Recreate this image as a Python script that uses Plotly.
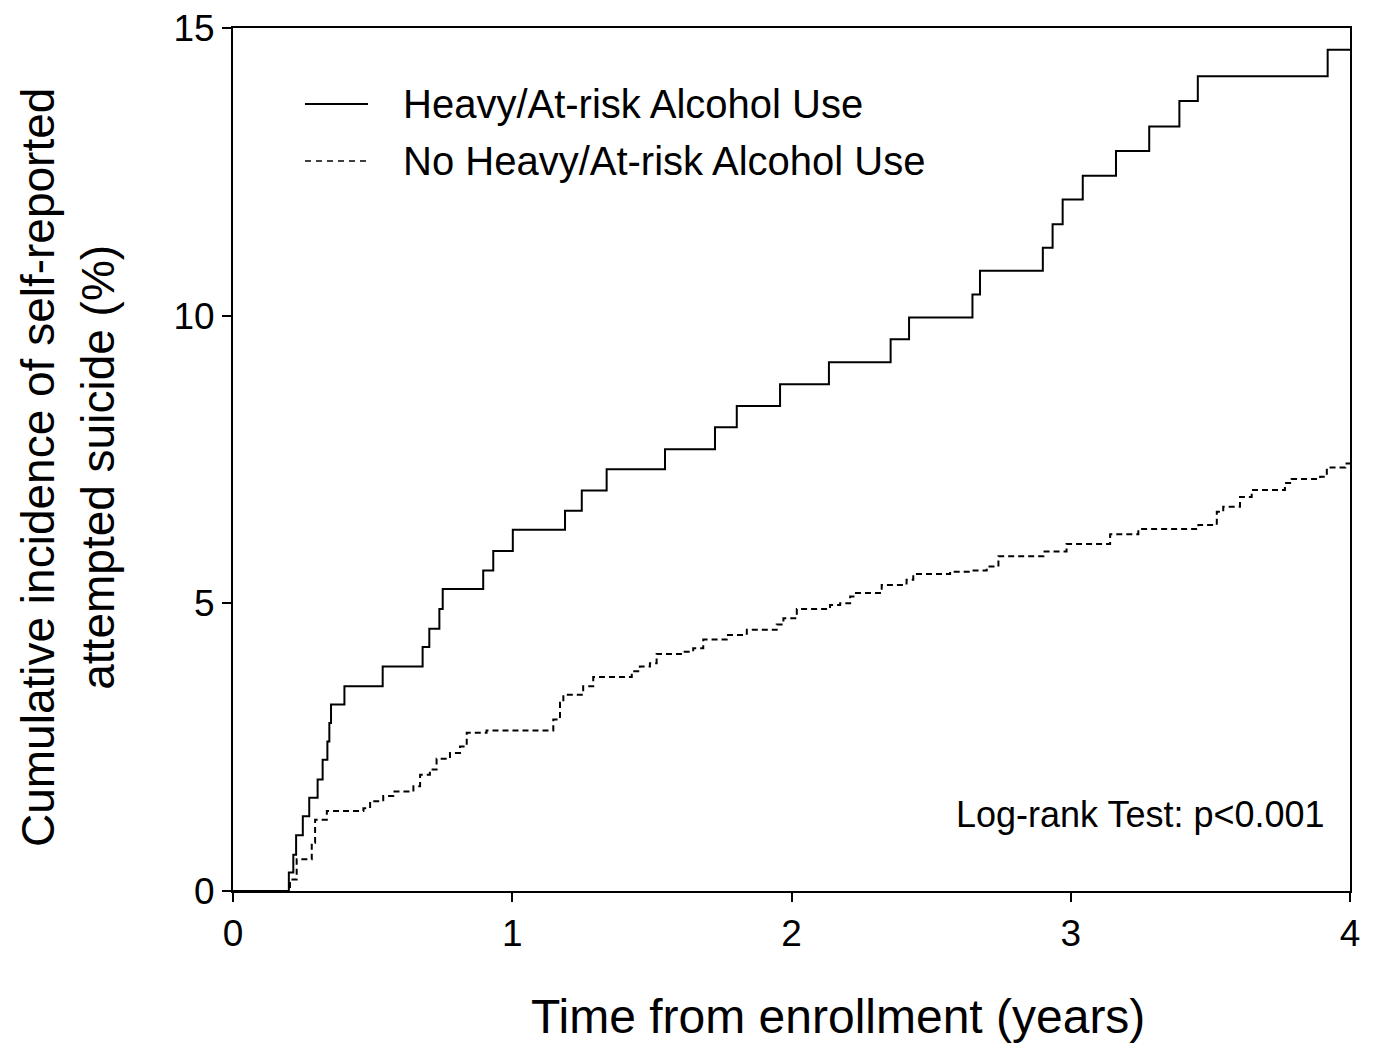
import plotly.graph_objects as go

# ---- data ----
time_heavy = [0, 0.200, 0.216, 0.226, 0.250, 0.273, 0.303, 0.321, 0.338, 0.345, 0.351,
              0.399, 0.536, 0.679, 0.703, 0.739, 0.751, 0.896, 0.932, 1.002, 1.189,
              1.249, 1.338, 1.547, 1.726, 1.804, 1.959, 2.134, 2.355, 2.421, 2.648,
              2.675, 2.900, 2.935, 2.971, 3.043, 3.162, 3.281, 3.389, 3.455, 3.920, 4.0]
cum_heavy = [0, 0.32, 0.63, 0.97, 1.30, 1.62, 1.94, 2.28, 2.60, 2.92, 3.24,
             3.56, 3.90, 4.24, 4.56, 4.90, 5.25, 5.57, 5.91, 6.28, 6.61,
             6.96, 7.33, 7.68, 8.06, 8.43, 8.81, 9.19, 9.59, 9.97, 10.37,
             10.78, 11.18, 11.59, 12.02, 12.43, 12.86, 13.29, 13.73, 14.16, 14.62, 14.62]

time_none = [0, 0.204, 0.228, 0.282, 0.294, 0.336, 0.467, 0.491, 0.538, 0.574,
             0.646, 0.670, 0.705, 0.729, 0.777, 0.813, 0.837, 0.908, 1.147, 1.171,
             1.183, 1.254, 1.290, 1.428, 1.457, 1.493, 1.517, 1.613, 1.648, 1.684,
             1.768, 1.840, 1.947, 1.971, 2.019, 2.138, 2.174, 2.210, 2.227, 2.323,
             2.412, 2.436, 2.568, 2.640, 2.699, 2.741, 2.902, 2.985, 3.141, 3.242,
             3.457, 3.523, 3.546, 3.606, 3.648, 3.767, 3.791, 3.893, 3.917, 3.983, 4.0]
cum_none = [0, 0.20, 0.55, 0.84, 1.24, 1.39, 1.44, 1.56, 1.65, 1.73,
            1.82, 2.02, 2.11, 2.30, 2.40, 2.51, 2.75, 2.79, 2.98, 3.27,
            3.41, 3.56, 3.72, 3.82, 3.90, 3.96, 4.12, 4.16, 4.22, 4.37,
            4.45, 4.54, 4.63, 4.74, 4.90, 4.97, 5.00, 5.12, 5.18, 5.32,
            5.41, 5.51, 5.55, 5.57, 5.64, 5.82, 5.90, 6.03, 6.20, 6.29,
            6.36, 6.59, 6.68, 6.85, 6.97, 7.09, 7.16, 7.20, 7.36, 7.43, 7.43]

series_names = ["Heavy/At-risk Alcohol Use", "No Heavy/At-risk Alcohol Use"]
x_ticks = [0, 1, 2, 3, 4]
y_ticks = [0, 5, 10, 15]

FONT = "Liberation Sans, Arial, sans-serif"

fig = go.Figure()
fig.add_trace(go.Scatter(x=time_none, y=cum_none, mode="lines", line_shape="hv",
                         line=dict(color="black", width=2, dash="6px,4px"),
                         name=series_names[1], showlegend=False))
fig.add_trace(go.Scatter(x=time_heavy, y=cum_heavy, mode="lines", line_shape="hv",
                         line=dict(color="black", width=2),
                         name=series_names[0], showlegend=False))

# plot area in page pixels (page has an 8px body margin)
OFF = 8
L, T, W, H = 233, 28, 1117, 863
FIG_W, FIG_H = 1375 - 2 * OFF, 1053 - 2 * OFF
def px(xp): return (xp - L) / W
def py(yp): return (T + H - yp) / H

fig.add_shape(type="line", xref="paper", yref="paper", x0=px(305), x1=px(368),
              y0=py(104), y1=py(104), line=dict(color="black", width=2))
fig.add_shape(type="line", xref="paper", yref="paper", x0=px(305), x1=px(368),
              y0=py(161), y1=py(161), line=dict(color="black", width=1.5, dash="6px,5px"))
for name, yp in zip(series_names, [104, 161]):
    fig.add_annotation(text=name, xref="paper", yref="paper", x=px(401), y=py(yp),
                       xanchor="left", yanchor="middle", showarrow=False,
                       font=dict(family=FONT, size=40, color="black"))

fig.add_annotation(text="Log-rank Test: p<0.001", xref="paper", yref="paper",
                   x=px(1327), y=py(814), xanchor="right", yanchor="middle",
                   showarrow=False, font=dict(family=FONT, size=36, color="black"))

fig.add_annotation(text="Cumulative incidence of self-reported<br>attempted suicide (%)",
                   xref="paper", yref="paper", x=px(68), y=py(468),
                   xanchor="center", yanchor="middle", textangle=-90, showarrow=False,
                   font=dict(family=FONT, size=46, color="black"))

fig.add_annotation(text="Time from enrollment (years)", xref="paper", yref="paper",
                   x=px(838), y=py(1017), xanchor="center", yanchor="middle",
                   showarrow=False, font=dict(family=FONT, size=48, color="black"))

axis_common = dict(showline=True, linecolor="black", linewidth=2, mirror=True,
                   showgrid=False, zeroline=False, ticks="outside", ticklen=9,
                   tickwidth=2, tickcolor="black", ticklabeloverflow="allow",
                   automargin=False,
                   tickfont=dict(family=FONT, size=37, color="black"))

fig.update_xaxes(range=[0, 4], tickvals=x_ticks, ticktext=[str(v) for v in x_ticks],
                 **axis_common)
fig.update_yaxes(range=[0, 15], tickvals=y_ticks, ticktext=[str(v) for v in y_ticks],
                 **axis_common)

fig.update_layout(width=FIG_W, height=FIG_H,
                  margin=dict(l=L - OFF, r=FIG_W - (L - OFF) - W, t=T - OFF,
                              b=FIG_H - (T - OFF) - H, autoexpand=False),
                  plot_bgcolor="white", paper_bgcolor="white",
                  font=dict(family=FONT, color="black"))

fig.write_html("out.html")
